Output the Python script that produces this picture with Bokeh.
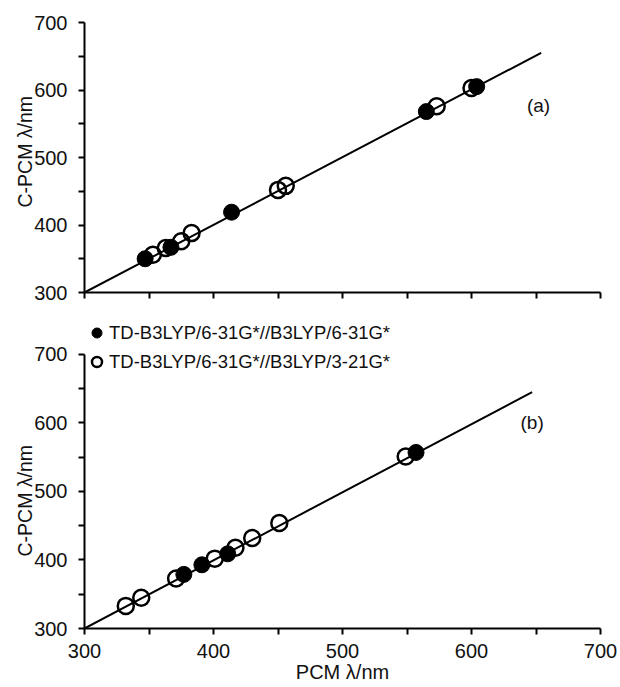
from bokeh.plotting import figure
from bokeh.layouts import column
from bokeh.models import Range1d, FixedTicker, Legend, LegendItem, Label, Title
from bokeh.embed import file_html
from bokeh.resources import INLINE

# ---- data ----
# panel (a)
filled_a_x = [347, 367, 414, 565, 604]
filled_a_y = [350, 367, 419, 568, 605]
hollow_a_x = [353, 363, 375, 383, 450, 456, 573, 600]
hollow_a_y = [356, 366, 376, 388, 452, 458, 576, 603]
fit_a_x = [300, 654]
fit_a_y = [300, 655]

# panel (b)
filled_b_x = [377, 391, 411, 557]
filled_b_y = [379, 393, 409, 557]
hollow_b_x = [332, 344, 371, 401, 417, 430, 451, 549]
hollow_b_y = [333, 345, 373, 402, 418, 432, 454, 551]
fit_b_x = [300, 647]
fit_b_y = [300, 645]

major_ticks = [300, 400, 500, 600, 700]
minor_ticks = [350, 450, 550, 650]
all_ticks = [300, 350, 400, 450, 500, 550, 600, 650, 700]
legend_labels = ["TD-B3LYP/6-31G*//B3LYP/6-31G*", "TD-B3LYP/6-31G*//B3LYP/3-21G*"]
x_title = "PCM \u03bb/nm"
y_title = "C-PCM \u03bb/nm"

FONT = "Liberation Sans"
TXT = "#111111"


def style_axis(ax):
    ax.axis_line_width = 2
    ax.axis_line_color = "black"
    ax.major_tick_line_width = 2
    ax.minor_tick_line_width = 2
    ax.major_tick_line_color = "black"
    ax.minor_tick_line_color = "black"
    ax.major_tick_in = 0
    ax.major_tick_out = 6
    ax.minor_tick_in = 0
    ax.minor_tick_out = 6
    ax.major_label_text_font = FONT
    ax.major_label_text_font_size = "20px"
    ax.major_label_text_color = TXT
    ax.axis_label_text_font = FONT
    ax.axis_label_text_font_size = "20px"
    ax.axis_label_text_font_style = "normal"
    ax.axis_label_text_color = TXT


def style(p, show_x_labels, ylab_offset):
    p.xgrid.visible = False
    p.ygrid.visible = False
    p.outline_line_color = None
    style_axis(p.xaxis[0])
    style_axis(p.yaxis[0])
    p.yaxis[0].ticker = FixedTicker(ticks=major_ticks, minor_ticks=minor_ticks)
    p.yaxis[0].bounds = (300, 700)
    p.yaxis[0].major_label_standoff = 11
    p.add_layout(Title(text=y_title, align="left", offset=ylab_offset, standoff=-8,
                       text_font=FONT, text_font_size="19.5px", text_font_style="normal",
                       text_color=TXT), "left")
    if show_x_labels:
        p.xaxis[0].ticker = FixedTicker(ticks=major_ticks, minor_ticks=minor_ticks)
        p.xaxis[0].axis_label = x_title
        p.xaxis[0].major_label_standoff = 9
        p.xaxis[0].axis_label_standoff = 0
    else:
        p.xaxis[0].ticker = FixedTicker(ticks=[], minor_ticks=all_ticks)


# ---- panel (a) ----
p1 = figure(frame_width=516, frame_height=270, output_backend="svg", toolbar_location=None,
            x_range=Range1d(300, 700), y_range=Range1d(300, 700),
            min_border_left=84, min_border_right=18, min_border_top=22, min_border_bottom=12)
style(p1, False, 85)
p1.line(fit_a_x, fit_a_y, line_color="black", line_width=2)
p1.scatter(filled_a_x, filled_a_y, size=16, marker="circle", fill_color="black", line_color="black", line_width=1)
p1.scatter(hollow_a_x, hollow_a_y, size=16, marker="circle", fill_color=None, line_color="black", line_width=2.5)
p1.add_layout(Label(x=652, y=577, text="(a)", text_font=FONT, text_font_size="19px",
                    text_color=TXT, text_align="center", text_baseline="middle"))

# ---- panel (b) ----  (frame reaches above 700 to hold the legend; axis bounded to 300-700)
p2 = figure(frame_width=516, frame_height=311, output_backend="svg", toolbar_location=None,
            x_range=Range1d(300, 700), y_range=Range1d(300, 754),
            min_border_left=84, min_border_right=18, min_border_top=13, min_border_bottom=50)
style(p2, True, 72)
p2.line(fit_b_x, fit_b_y, line_color="black", line_width=2)
rf = p2.scatter(filled_b_x, filled_b_y, size=16, marker="circle", fill_color="black", line_color="black", line_width=1)
rh = p2.scatter(hollow_b_x, hollow_b_y, size=16, marker="circle", fill_color=None, line_color="black", line_width=2.5)
p2.add_layout(Label(x=647, y=601, text="(b)", text_font=FONT, text_font_size="19px",
                    text_color=TXT, text_align="center", text_baseline="middle"))

legend = Legend(items=[LegendItem(label=legend_labels[0], renderers=[rf]),
                       LegendItem(label=legend_labels[1], renderers=[rh])],
                location=(0, 254), orientation="vertical",
                glyph_width=25, glyph_height=25, label_height=25, spacing=4,
                label_standoff=0, padding=0, margin=0,
                border_line_color=None, background_fill_alpha=0,
                label_text_font=FONT, label_text_font_size="18.5px", label_text_color=TXT)
p2.add_layout(legend, "center")

layout = column(p1, p2, spacing=0)
open("out.html", "w").write(file_html(layout, INLINE))
